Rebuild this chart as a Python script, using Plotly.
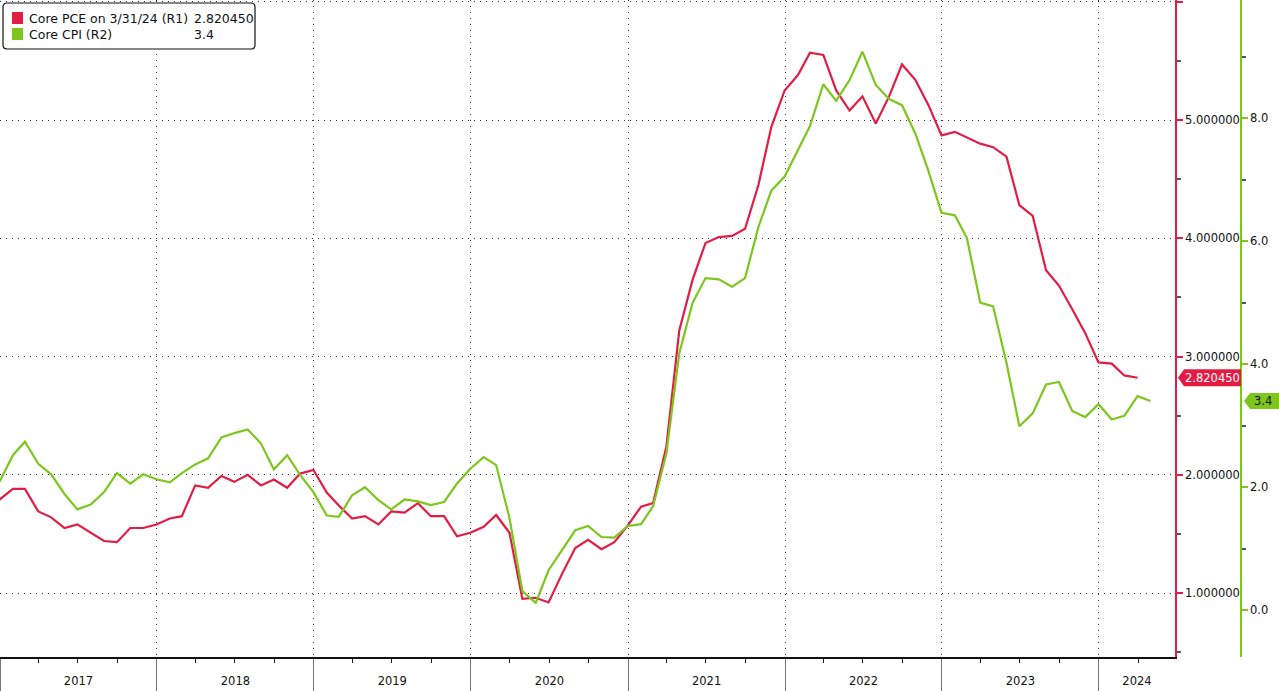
import plotly.graph_objects as go
import pandas as pd

# ---------------- data (month-end observations) ----------------
pce_start = "2016-12-01"
core_pce = [
    1.79,
    1.88, 1.88, 1.69, 1.64, 1.55, 1.58, 1.51, 1.44, 1.43, 1.55, 1.55, 1.58,
    1.63, 1.65, 1.91, 1.89, 1.99, 1.94, 2.00, 1.91, 1.96, 1.89, 2.01, 2.04,
    1.85, 1.74, 1.63, 1.65, 1.58, 1.69, 1.68, 1.76, 1.65, 1.65, 1.48, 1.51,
    1.56, 1.66, 1.51, 0.95, 0.96, 0.92, 1.16, 1.38, 1.45, 1.37, 1.43, 1.57,
    1.73, 1.76, 2.24, 3.22, 3.65, 3.96, 4.01, 4.02, 4.08, 4.45, 4.94, 5.25,
    5.38, 5.57, 5.55, 5.25, 5.08, 5.20, 4.97, 5.20, 5.47, 5.34, 5.13, 4.87,
    4.90, 4.85, 4.80, 4.77, 4.69, 4.28, 4.19, 3.73, 3.60, 3.40, 3.20, 2.95,
    2.94, 2.84, 2.820450,
]
cpi_start = "2016-12-01"
core_cpi = [
    2.09,
    2.52, 2.74, 2.38, 2.21, 1.89, 1.64, 1.72, 1.92, 2.23, 2.06, 2.21, 2.13,
    2.08, 2.23, 2.37, 2.47, 2.81, 2.88, 2.94, 2.71, 2.29, 2.52, 2.20, 1.92,
    1.54, 1.52, 1.87, 2.00, 1.79, 1.64, 1.80, 1.77, 1.71, 1.76, 2.06, 2.30,
    2.49, 2.36, 1.50, 0.31, 0.12, 0.65, 0.98, 1.30, 1.37, 1.19, 1.18, 1.37,
    1.40, 1.69, 2.55, 4.18, 5.00, 5.40, 5.38, 5.26, 5.40, 6.23, 6.82, 7.05,
    7.48, 7.87, 8.55, 8.28, 8.62, 9.08, 8.54, 8.31, 8.21, 7.75, 7.15, 6.46,
    6.42, 6.05, 5.00, 4.94, 4.02, 2.99, 3.20, 3.67, 3.71, 3.24, 3.14, 3.35,
    3.10, 3.16, 3.48, 3.40,
]
pce_label = "2.820450"
cpi_label = "3.4"
legend_names = ["Core PCE on 3/31/24 (R1)", "Core CPI (R2)"]
year_labels = ["2017", "2018", "2019", "2020", "2021", "2022", "2023", "2024"]
x_range = ["2017-01-01", "2024-06-26"]
r1_range = [0.459, 6.015]
r2_range = [-0.76, 9.92]
r1_ticks = [1, 2, 3, 4, 5, 6]
r2_ticks = [0, 2, 4, 6, 8]

RED = "#e31c44"
GREEN = "#7dc61e"
FONT = "DejaVu Sans"
GRID_DASH = "1px,5px"

pce_dates = pd.date_range(pce_start, periods=len(core_pce), freq="MS") + pd.offsets.MonthEnd(0)
cpi_dates = pd.date_range(cpi_start, periods=len(core_cpi), freq="MS") + pd.offsets.MonthEnd(0)

# year label positions: middle of each visible year
x0 = pd.Timestamp(x_range[0]); x1 = pd.Timestamp(x_range[1])
label_pos = []
for y in year_labels:
    a = max(pd.Timestamp(f"{y}-01-01"), x0)
    b = min(pd.Timestamp(f"{int(y)+1}-01-01"), x1)
    label_pos.append(a + (b - a) / 2)

# ---------------- geometry helpers ----------------
W, H = 1279, 691
PW, PH = 1241, 657          # paper area in pixels (margins l=0, t=0)
AX1 = 1175                  # red axis pixel position
def X(px): return px / PW
def Y(py): return 1 - py / PH

fig = go.Figure()
fig.add_trace(go.Scatter(x=pce_dates, y=core_pce, mode="lines",
                         line=dict(color=RED, width=2.2), yaxis="y", showlegend=False))
fig.add_trace(go.Scatter(x=cpi_dates, y=core_cpi, mode="lines",
                         line=dict(color=GREEN, width=2.2), yaxis="y2", showlegend=False))
# invisible trace carrying the year-label axis
fig.add_trace(go.Scatter(x=label_pos, y=[None] * len(label_pos), xaxis="x2", yaxis="y",
                         mode="markers", showlegend=False, hoverinfo="skip"))

shapes = []
annotations = []

# legend box
l, t, r, b, rad = 3, 3, 255, 49, 4
shapes.append(dict(
    type="path", xref="paper", yref="paper",
    path=(f"M {X(l+rad)},{Y(t)} L {X(r-rad)},{Y(t)} Q {X(r)},{Y(t)} {X(r)},{Y(t+rad)} "
          f"L {X(r)},{Y(b-rad)} Q {X(r)},{Y(b)} {X(r-rad)},{Y(b)} "
          f"L {X(l+rad)},{Y(b)} Q {X(l)},{Y(b)} {X(l)},{Y(b-rad)} "
          f"L {X(l)},{Y(t+rad)} Q {X(l)},{Y(t)} {X(l+rad)},{Y(t)} Z"),
    line=dict(color="#111", width=1.2), fillcolor="white", layer="above"))
for i, (name, col, val) in enumerate(zip(legend_names, [RED, GREEN], [pce_label, cpi_label])):
    cy = 18 + i * 16
    shapes.append(dict(type="rect", xref="paper", yref="paper",
                       x0=X(12), x1=X(23), y0=Y(cy - 6), y1=Y(cy + 6),
                       fillcolor=col, line=dict(width=0), layer="above"))
    annotations.append(dict(xref="paper", yref="paper", x=X(27), y=Y(cy), text=name,
                            showarrow=False, xanchor="left", yanchor="middle",
                            font=dict(family=FONT, size=12.5, color="#111")))
    annotations.append(dict(xref="paper", yref="paper", x=X(192), y=Y(cy), text=val,
                            showarrow=False, xanchor="left", yanchor="middle",
                            font=dict(family=FONT, size=12.5, color="#111")))

# last-value tags
def tag(v, rng, yref, xtip, xbox, xend, half, col):
    h = half * (rng[1] - rng[0]) / PH
    return dict(type="path", xref="paper", yref=yref,
                path=(f"M {X(xtip)},{v} L {X(xbox)},{v+h} L {X(xend)},{v+h} "
                      f"L {X(xend)},{v-h} L {X(xbox)},{v-h} Z"),
                fillcolor=col, line=dict(width=0), layer="above")

shapes.append(tag(core_pce[-1], r1_range, "y", 1178, 1184, 1241, 8.5, RED))
annotations.append(dict(xref="paper", yref="y", x=X(1212), y=core_pce[-1], text=pce_label,
                        showarrow=False, xanchor="center", yanchor="middle",
                        font=dict(family=FONT, size=11.5, color="white")))
shapes.append(tag(core_cpi[-1], r2_range, "y2", 1244, 1250, 1290, 8, GREEN))
annotations.append(dict(xref="paper", yref="y2", x=X(1252), y=core_cpi[-1], text=cpi_label,
                        showarrow=False, xanchor="left", yanchor="middle",
                        font=dict(family=FONT, size=11.5, color="#111")))

fig.update_layout(
    width=W, height=H,
    margin=dict(l=0, r=W - PW, t=0, b=H - PH, pad=0, autoexpand=False),
    paper_bgcolor="white", plot_bgcolor="white",
    font=dict(family=FONT, size=11, color="#111"),
    shapes=shapes, annotations=annotations,
    xaxis=dict(
        type="date", range=x_range, domain=[0, AX1 / PW],
        tickmode="linear", tick0="2017-01-01", dtick="M12",
        showticklabels=False, ticks="outside", ticklen=34, tickwidth=1, tickcolor="#777",
        showgrid=True, griddash=GRID_DASH, gridcolor="#333", gridwidth=1,
        showline=True, linecolor="#111", linewidth=1.5,
        minor=dict(ticks="outside", ticklen=4, tickcolor="#222", dtick="M3",
                   tick0="2017-01-01", showgrid=False),
        zeroline=False, fixedrange=True,
    ),
    xaxis2=dict(
        type="date", range=x_range, overlaying="x", anchor="y", side="bottom",
        tickmode="array", tickvals=label_pos, ticktext=year_labels,
        ticks="outside", ticklen=13, tickcolor="rgba(0,0,0,0)",
        showgrid=False, showline=False, zeroline=False,
        tickfont=dict(family=FONT, size=11.5, color="#111"),
    ),
    yaxis=dict(
        range=r1_range, side="right", anchor="x",
        tickmode="array", tickvals=r1_ticks,
        ticktext=[f"{v:.6f}" if v < 6 else "" for v in r1_ticks],
        ticks="outside", ticklen=6, tickwidth=2, tickcolor=RED,
        showline=True, linecolor=RED, linewidth=1.5,
        showgrid=True, griddash=GRID_DASH, gridcolor="#333", gridwidth=1,
        minor=dict(tickmode="array", tickvals=[v + 0.5 for v in range(0, 6)],
                   ticks="outside", ticklen=4, tickcolor="#555", showgrid=False),
        zeroline=False, tickfont=dict(family=FONT, size=11.5, color="#111"),
    ),
    yaxis2=dict(
        range=r2_range, side="right", overlaying="y", anchor="free", position=1.0,
        tickmode="array", tickvals=r2_ticks, ticktext=[f"{v:.1f}" for v in r2_ticks],
        ticks="outside", ticklen=6, tickwidth=2, tickcolor=GREEN,
        showline=True, linecolor=GREEN, linewidth=1.5, showgrid=False,
        minor=dict(tickmode="array", tickvals=[1, 3, 5, 7, 9],
                   ticks="outside", ticklen=4, tickcolor="#555", showgrid=False),
        zeroline=False, tickfont=dict(family=FONT, size=11.5, color="#111"),
    ),
)

fig.write_html("out.html", config={"displayModeBar": False},
               post_script="document.body.style.margin='0';document.body.style.overflow='hidden';")
